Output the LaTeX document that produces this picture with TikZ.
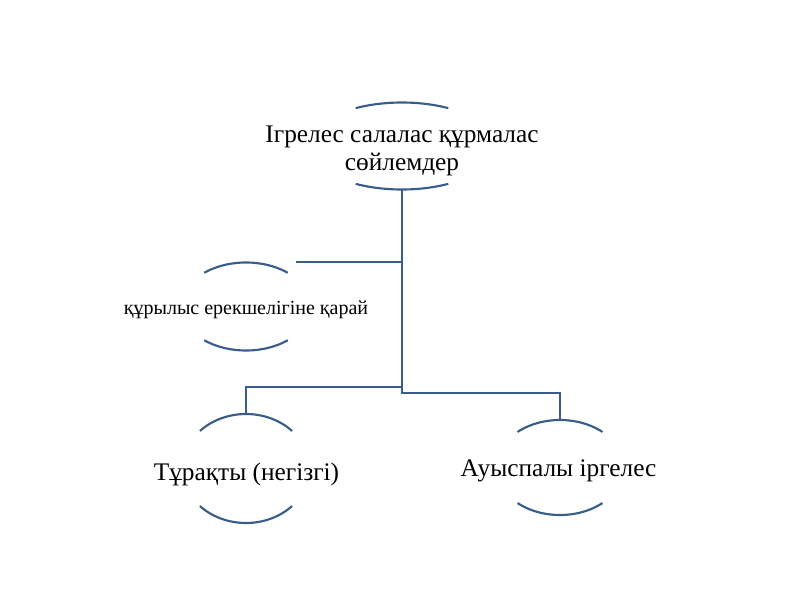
\documentclass[tikz,border=0pt]{standalone}
\usepackage{fontspec}
\setmainfont{Liberation Serif}
\definecolor{lineblue}{RGB}{56,93,138}
\tikzset{
  arcline/.style={draw=lineblue, line width=1.6pt},
  link/.style={draw=lineblue, line width=1.5pt},
  bigtext/.style={font=\fontsize{19}{21}\selectfont, align=center, inner sep=0pt},
  smalltext/.style={font=\fontsize{15}{18}\selectfont, align=center, inner sep=0pt},
  pics/ovalarcs/.style n args={3}{code={
    \draw[arcline] plot[domain=#3:180-#3, samples=40] ({#1*cos(\x)},{-#2*sin(\x)});
    \draw[arcline] plot[domain=#3:180-#3, samples=40] ({#1*cos(\x)},{#2*sin(\x)});
    \coordinate (-n) at (0,-#2);
    \coordinate (-s) at (0,#2);
  }}
}
\begin{document}
\begin{tikzpicture}[x=0.75pt,y=-0.75pt]
\useasboundingbox (0,0) rectangle (800,600);
% nodes
\pic (top) at (402,146) {ovalarcs={94}{43.5}{60.5}};
\node[bigtext] (toptext) at (402,151) {Ігрелес салалас құрмалас\\сөйлемдер};

\pic (left) at (246,306.5) {ovalarcs={65}{44}{50}};
\node[smalltext] (lefttext) at (246,310) {құрылыс ерекшелігіне қарай};

\pic (bl) at (246,468.5) {ovalarcs={63.5}{54.5}{43.5}};
\node[bigtext] (bltext) at (246.5,474) {Тұрақты (негізгі)};

\pic (br) at (560,467.5) {ovalarcs={64}{47.5}{48.5}};
\node[bigtext] (brtext) at (558.5,471) {Ауыспалы іргелес};

% connectors
\coordinate (jl) at (402,262);
\coordinate (leftend) at (296,262);
\coordinate (j1) at (402,387);
\coordinate (j2) at (402,393);
\draw[link] (top-s) -- (j2) -| (br-n);
\draw[link] (jl) -- (leftend);
\draw[link] (j1) -| (bl-n);
\end{tikzpicture}
\end{document}
